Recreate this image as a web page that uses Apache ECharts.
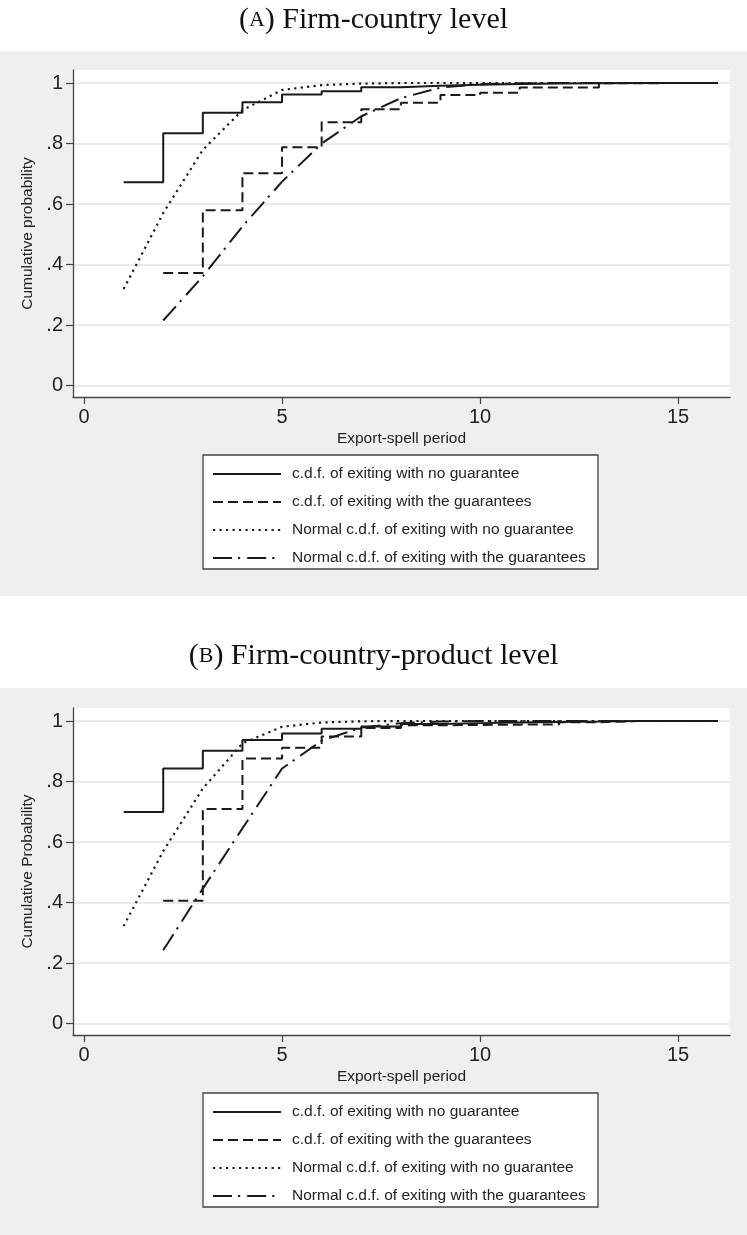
<!DOCTYPE html>
<html><head><meta charset="utf-8">
<script src="https://cdn.jsdelivr.net/npm/echarts@6/dist/echarts.min.js"></script>
<style>html,body{margin:0;padding:0;background:#fff}#c{width:747px;height:1235px}</style>
</head><body><div id="c"></div>
<script>
// ---------- data ----------
const periodsFrom1 = [1,2,3,4,5,6,7,8,9,10,11,12,13,14,15,16];
const periodsFrom2 = [2,3,4,5,6,7,8,9,10,11,12,13,14,15,16];

const seriesNames = [
  'c.d.f. of exiting with no guarantee',
  'c.d.f. of exiting with the guarantees',
  'Normal c.d.f. of exiting with no guarantee',
  'Normal c.d.f. of exiting with the guarantees'
];

// Panel A: Firm-country level
const A_noGuar     = [0.672,0.834,0.902,0.936,0.962,0.973,0.986,0.991,0.994,0.997,0.998,0.999,1,1,1,1];
const A_guar       = [0.372,0.579,0.702,0.788,0.870,0.913,0.935,0.960,0.968,0.985,0.985,0.999,1,1,1];
const A_normNoGuar = [0.319,0.570,0.779,0.910,0.977,0.993,0.998,1,1,1,1,1,1,1,1,1];
const A_normGuar   = [0.215,0.361,0.526,0.674,0.800,0.890,0.950,0.985,0.996,0.999,1,1,1,1,1];

// Panel B: Firm-country-product level
const B_noGuar     = [0.699,0.843,0.902,0.937,0.959,0.974,0.982,0.990,0.993,0.995,0.997,0.998,1,1,1,1];
const B_guar       = [0.406,0.709,0.876,0.912,0.949,0.977,0.986,0.987,0.988,0.989,0.996,1,1,1,1];
const B_normNoGuar = [0.322,0.570,0.777,0.926,0.981,0.995,0.999,1,1,1,1,1,1,1,1,1];
const B_normGuar   = [0.242,0.446,0.645,0.843,0.935,0.978,0.993,0.998,1,1,1,1,1,1,1];

const xTickValues = [0,5,10,15];
const yTickValues = [0,0.2,0.4,0.6,0.8,1];
const yTickLabels = ['0','.2','.4','.6','.8','1'];

const panelTitles = ['({sc|A}) Firm-country level', '({sc|B}) Firm-country-product level'];
const yAxisTitles = ['Cumulative probability', 'Cumulative Probability'];
const xAxisTitle = 'Export-spell period';

// ---------- styles ----------
const INK = '#222';
const FONT = 'Liberation Sans, Arial, sans-serif';
const dashTypes = ['solid', [10,5], [2.2,4.3], [19,6,2.2,7]];
const lineWidths = [2, 2, 2.2, 2];
const stepModes = ['end', 'end', false, false];

function zip(xs, ys){ return xs.map((x,i)=>[x, ys[i]]); }

const panels = [
  {top:70, data:[zip(periodsFrom1,A_noGuar), zip(periodsFrom2,A_guar), zip(periodsFrom1,A_normNoGuar), zip(periodsFrom2,A_normGuar)]},
  {top:708, data:[zip(periodsFrom1,B_noGuar), zip(periodsFrom2,B_guar), zip(periodsFrom1,B_normNoGuar), zip(periodsFrom2,B_normGuar)]}
];
const GRID_H = 327, GRID_L = 73, GRID_W = 657;

const grids = [], xAxes = [], yAxes = [], series = [], legends = [], titles = [], graphics = [];

// gray backgrounds
graphics.push({type:'rect', z:-100, silent:true, shape:{x:0,y:51,width:747,height:545}, style:{fill:'#efefef'}});
graphics.push({type:'rect', z:-100, silent:true, shape:{x:0,y:688,width:747,height:547}, style:{fill:'#efefef'}});

panels.forEach((p, gi) => {
  grids.push({left:GRID_L, top:p.top, width:GRID_W, height:GRID_H, show:true, backgroundColor:'#fff', borderWidth:0, containLabel:false});
  xAxes.push({
    type:'value', gridIndex:gi, min:-0.278, max:16.31,
    axisLine:{show:true, onZero:false, lineStyle:{color:'#444', width:1.3}},
    axisTick:{show:true, length:7, customValues:xTickValues, lineStyle:{color:'#444', width:1.2}},
    axisLabel:{customValues:xTickValues, fontSize:20, color:INK, margin:10, fontFamily:FONT},
    splitLine:{show:false},
    name:xAxisTitle, nameLocation:'middle', nameGap:34,
    nameTextStyle:{fontSize:15.5, color:INK, fontFamily:FONT}
  });
  yAxes.push({
    type:'value', gridIndex:gi, min:-0.038, max:1.043,
    axisLine:{show:true, onZero:false, lineStyle:{color:'#444', width:1.3}},
    axisTick:{show:true, length:7, customValues:yTickValues, lineStyle:{color:'#444', width:1.2}},
    axisLabel:{customValues:yTickValues, fontSize:20, color:INK, margin:10, fontFamily:FONT,
      formatter: v => { const i = yTickValues.findIndex(t => Math.abs(t - v) < 1e-6); return i >= 0 ? yTickLabels[i] : ''; }},
    splitLine:{show:true, lineStyle:{color:'#e3e3e3', width:1.5}},
    name:yAxisTitles[gi], nameLocation:'middle', nameGap:33, nameRotate:90,
    nameTextStyle:{fontSize:15.5, color:INK, fontFamily:FONT}
  });
  p.data.forEach((d, si) => {
    series.push({
      type:'line', name:seriesNames[si], xAxisIndex:gi, yAxisIndex:gi,
      data:d, step:stepModes[si], symbol:'none', showSymbol:false, smooth:false,
      itemStyle:{color:'#1a1a1a'},
      lineStyle:{color:'#1a1a1a', width:lineWidths[si], type:dashTypes[si]},
      z:3
    });
  });
  const boxTop = p.top + GRID_H + 58;
  graphics.push({type:'rect', z:1, silent:true, shape:{x:203, y:boxTop, width:395, height:114},
    style:{fill:'#fff', stroke:'#444', lineWidth:1.3}});
  legends.push({
    orient:'vertical', left:212, top:boxTop + 11, padding:0,
    itemWidth:68, itemHeight:14, itemGap:12, z:10,
    data:seriesNames, selectedMode:false,
    itemStyle:{opacity:0, borderWidth:0},
    textStyle:{fontSize:15.5, color:INK, fontFamily:FONT, padding:[0,0,0,6]}
  });
});

const titleStyle = {fontFamily:'Liberation Serif, serif', fontSize:30, fontWeight:'normal', color:'#111',
    rich:{sc:{fontFamily:'Liberation Serif, serif', fontSize:22, color:'#111'}}};
titles.push({text:panelTitles[0], left:'center', top:5, padding:0, textStyle:titleStyle});
titles.push({text:panelTitles[1], left:'center', top:641, padding:0, textStyle:titleStyle});

const chart = echarts.init(document.getElementById('c'), null, {renderer:'canvas'});
chart.setOption({
  animation:false, backgroundColor:'#fff',
  title:titles, grid:grids, xAxis:xAxes, yAxis:yAxes, series:series, legend:legends,
  graphic:{elements:graphics}
});
</script></body></html>
